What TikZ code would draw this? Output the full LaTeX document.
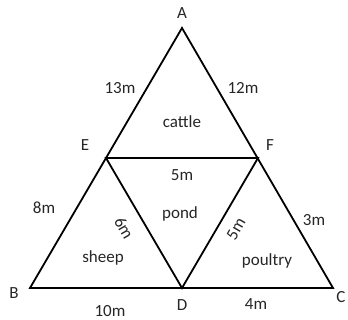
\documentclass[tikz,border=0pt]{standalone}
\usepackage{fontspec}
\setmainfont{Carlito}
\begin{document}
\begin{tikzpicture}[x=1pt,y=-1pt,
  edge/.style={line width=1.8pt,line join=miter},
  lbl/.style={font=\fontsize{17}{19}\selectfont,text=black!85,inner sep=0pt}]
\useasboundingbox (0,0) rectangle (348,320);
\coordinate (A) at (182,28);
\coordinate (E) at (106,158);
\coordinate (F) at (258,158);
\coordinate (B) at (30,288);
\coordinate (D) at (182,288);
\coordinate (C) at (333,288);
\draw[edge] (A) -- (C) -- (B) -- cycle;
\draw[edge] (E) -- (F) -- (D) -- cycle;
\node[lbl] (lA) at (182,13) {A};
\node[lbl] (lE) at (85,145) {E};
\node[lbl] (lF) at (270,145) {F};
\node[lbl] (lB) at (14,293) {B};
\node[lbl] (lD) at (182,305) {D};
\node[lbl] (lC) at (341,297) {C};
\node[lbl] (t13) at (120,88) {13m};
\node[lbl] (t12) at (243,88) {12m};
\node[lbl] (cattle) at (182,122) {cattle};
\node[lbl] (t5a) at (182,175) {5m};
\node[lbl] (t8) at (44,208) {8m};
\node[lbl,rotate=-60] (t6) at (124,228) {6m};
\node[lbl] (pond) at (180,214) {pond};
\node[lbl,rotate=60] (t5b) at (236,229) {5m};
\node[lbl] (t3) at (314,220) {3m};
\node[lbl] (sheep) at (103,258) {sheep};
\node[lbl] (poultry) at (267,261) {poultry};
\node[lbl] (t10) at (110,311) {10m};
\node[lbl] (t4) at (256,304) {4m};
\end{tikzpicture}
\end{document}
